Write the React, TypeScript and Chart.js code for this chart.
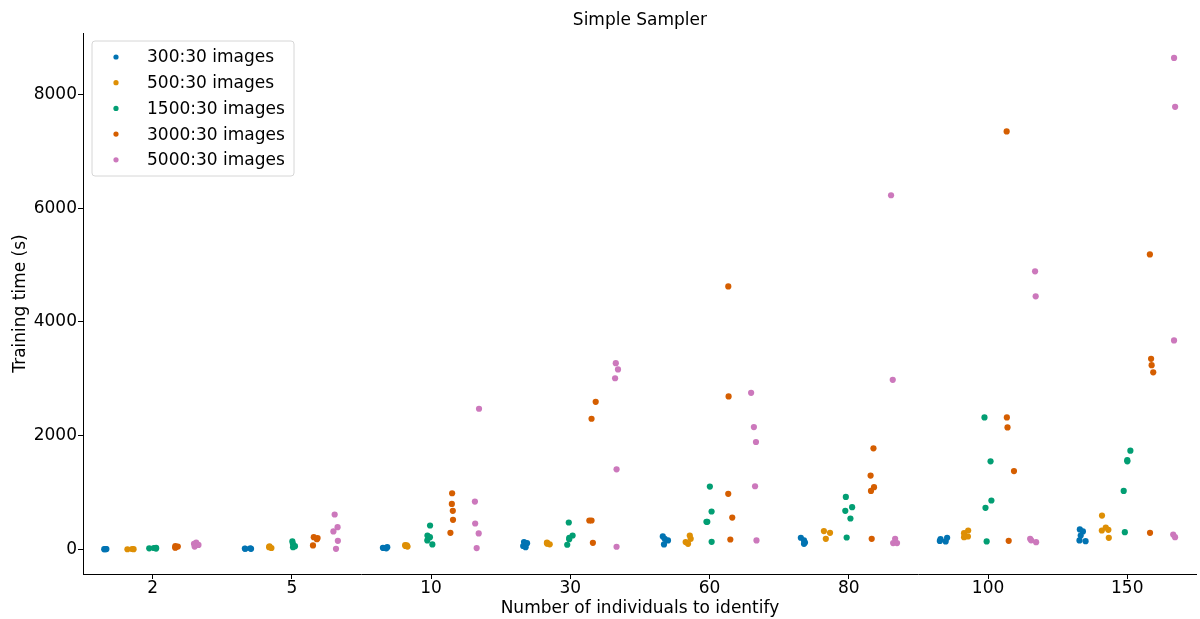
import React, { useEffect, useRef } from "react";
import { Chart, registerables } from "chart.js";

Chart.register(...registerables);

const categories = ["2", "5", "10", "30", "60", "80", "100", "150"];
const seriesNames = ["300:30 images", "500:30 images", "1500:30 images", "3000:30 images", "5000:30 images"];
const seriesColors = ["#0173b2", "#de8f05", "#029e73", "#d55e00", "#cc78bc"];
const yTicks = [0, 2000, 4000, 6000, 8000];

// values per category (2,5,10,30,60,80,100,150)
const times300 = [
  [5, 8, 3, 6],
  [15, 10, 20, 12],
  [30, 20, 40, 25],
  [130, 90, 60, 40, 110],
  [228, 187, 158, 88],
  [205, 158, 120, 99],
  [205, 180, 150, 140],
  [351, 316, 245, 158, 146],
];
const times500 = [
  [5, 8, 3],
  [25, 40, 55],
  [60, 70, 50, 75],
  [100, 110, 120, 90],
  [245, 187, 130, 99],
  [322, 292, 187],
  [333, 286, 227, 216],
  [596, 386, 345, 333, 204],
];
const times1500 = [
  [20, 30, 25, 15],
  [140, 99, 58, 40],
  [421, 245, 216, 158, 88],
  [474, 245, 205, 181, 82],
  [1105, 667, 485, 485, 134],
  [924, 743, 678, 544, 210],
  [2322, 1550, 860, 731, 140],
  [1737, 1570, 1550, 1029, 304],
];
const times3000 = [
  [60, 50, 40, 30],
  [216, 200, 180, 70],
  [988, 801, 678, 520, 292],
  [2596, 2298, 509, 509, 117],
  [4625, 2690, 977, 561, 175],
  [1778, 1298, 1094, 1029, 187],
  [7351, 2322, 2146, 1377, 152],
  [5188, 3351, 3240, 3114, 292],
];
const times5000 = [
  [120, 100, 80, 50],
  [614, 392, 316, 152, 10],
  [2474, 842, 456, 281, 23],
  [3275, 3165, 3010, 1409, 47],
  [2754, 2152, 1889, 1111, 158],
  [6228, 2982, 187, 111, 111],
  [4890, 4450, 187, 160, 128],
  [8643, 7783, 3675, 263, 216],
];

const allSeries = [times300, times500, times1500, times3000, times5000];

const FONT = "'DejaVu Sans', sans-serif";

function jitter(h: number, c: number, i: number) {
  // deterministic small spread inside a dodge slot (hash, no randomness)
  const s = Math.sin(h * 12.9898 + c * 78.233 + i * 37.719) * 43758.5453;
  const f = s - Math.floor(s);
  return (f - 0.5) * 0.055;
}

const overlayPlugin = {
  id: "overlay",
  afterDraw(chart: any) {
    const { ctx, chartArea } = chart;
    ctx.save();
    // title
    ctx.fillStyle = "#000";
    ctx.font = `17px ${FONT}`;
    ctx.textAlign = "center";
    ctx.textBaseline = "middle";
    ctx.fillText("Simple Sampler", (chartArea.left + chartArea.right) / 2, 21);
    // legend
    const bx = chartArea.left + 9;
    const by = chartArea.top + 8;
    const bw = 202;
    const bh = 135;
    const r = 3;
    ctx.beginPath();
    ctx.moveTo(bx + r, by);
    ctx.lineTo(bx + bw - r, by);
    ctx.arcTo(bx + bw, by, bx + bw, by + r, r);
    ctx.lineTo(bx + bw, by + bh - r);
    ctx.arcTo(bx + bw, by + bh, bx + bw - r, by + bh, r);
    ctx.lineTo(bx + r, by + bh);
    ctx.arcTo(bx, by + bh, bx, by + bh - r, r);
    ctx.lineTo(bx, by + r);
    ctx.arcTo(bx, by, bx + r, by, r);
    ctx.closePath();
    ctx.fillStyle = "rgba(255,255,255,0.8)";
    ctx.fill();
    ctx.strokeStyle = "#d6d6d6";
    ctx.lineWidth = 1;
    ctx.stroke();
    ctx.textAlign = "left";
    ctx.textBaseline = "middle";
    seriesNames.forEach((name, k) => {
      const yy = by + 16 + k * 25.7;
      ctx.beginPath();
      ctx.arc(bx + 24, yy, 2.6, 0, Math.PI * 2);
      ctx.fillStyle = seriesColors[k];
      ctx.fill();
      ctx.fillStyle = "#000";
      ctx.fillText(name, bx + 55, yy + 1);
    });
    ctx.restore();
  },
};

export default function App() {
  const ref = useRef<HTMLCanvasElement | null>(null);
  useEffect(() => {
    if (!ref.current) return;
    const datasets = allSeries.map((series, h) => {
      const pts: { x: number; y: number }[] = [];
      series.forEach((vals, c) => {
        vals.forEach((v, i) => {
          pts.push({ x: c + (h - 2) * 0.16 + jitter(h, c, i), y: v });
        });
      });
      return {
        label: seriesNames[h],
        data: pts,
        backgroundColor: seriesColors[h],
        borderWidth: 0,
        pointRadius: 3.1,
        pointHoverRadius: 3.1,
      };
    });
    const chart = new Chart(ref.current, {
      type: "scatter",
      data: { datasets },
      plugins: [overlayPlugin],
      options: {
        animation: false,
        responsive: false,
        devicePixelRatio: 1,
        layout: { padding: { top: 33, left: 0, right: 2, bottom: 0 } },
        plugins: { legend: { display: false }, tooltip: { enabled: false }, title: { display: false } },
        scales: {
          x: {
            type: "linear",
            min: -0.5,
            max: 7.5,
            afterFit: (s: any) => {
              s.height = 45;
            },
            afterBuildTicks: (s: any) => {
              s.ticks = categories.map((_, i) => ({ value: i }));
            },
            ticks: {
              autoSkip: false,
              maxRotation: 0,
              color: "#000",
              font: { family: FONT, size: 17 },
              padding: -1,
              callback: (v: any) => categories[Math.round(Number(v))],
            },
            grid: { drawOnChartArea: false, drawTicks: true, tickLength: 5, color: "#000", lineWidth: 1 },
            border: { display: true, color: "#000", width: 1 },
            title: {
              display: true,
              text: "Number of individuals to identify",
              color: "#000",
              font: { family: FONT, size: 17 },
              padding: { top: 0, bottom: 0 },
            },
          },
          y: {
            type: "linear",
            min: -432,
            max: 9081,
            afterFit: (s: any) => {
              s.width = 83;
            },
            afterBuildTicks: (s: any) => {
              s.ticks = yTicks.map((v) => ({ value: v }));
            },
            ticks: {
              color: "#000",
              font: { family: FONT, size: 17 },
              padding: 1,
              callback: (v: any) => String(v),
            },
            grid: { drawOnChartArea: false, drawTicks: true, tickLength: 5, color: "#000", lineWidth: 1 },
            border: { display: true, color: "#000", width: 1 },
            title: {
              display: true,
              text: "Training time (s)",
              color: "#000",
              font: { family: FONT, size: 17 },
              padding: { top: 10, bottom: 0 },
            },
          },
        },
      },
    });
    return () => chart.destroy();
  }, []);
  return (
    <div style={{ position: "absolute", left: 0, top: 0, width: 1200, height: 619, background: "#fff" }}>
      <canvas ref={ref} width={1200} height={619} style={{ display: "block", width: 1200, height: 619 }} />
    </div>
  );
}
